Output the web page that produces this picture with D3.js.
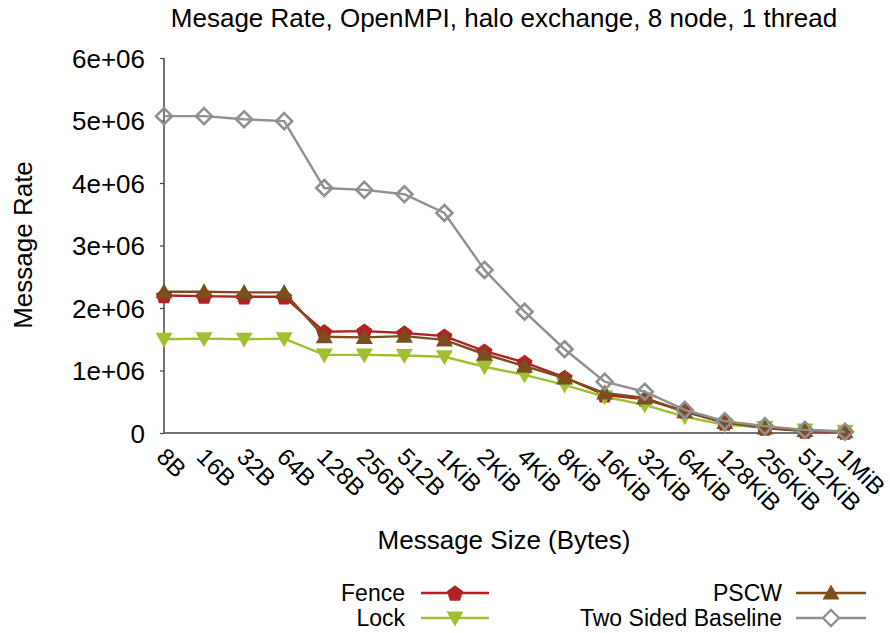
<!DOCTYPE html>
<html>
<head>
<meta charset="utf-8">
<script src="https://cdn.jsdelivr.net/npm/d3@7"></script>
<style>
  body { margin: 0; background: #fff; }
  svg text { font-family: "Liberation Sans", Arial, sans-serif; fill: #000; }
</style>
</head>
<body>
<svg id="chart" width="890" height="633"></svg>
<script>
// message sizes on the x axis
var sizes = ["8B", "16B", "32B", "64B", "128B", "256B", "512B", "1KiB", "2KiB", "4KiB",
  "8KiB", "16KiB", "32KiB", "64KiB", "128KiB", "256KiB", "512KiB", "1MiB"];

// message rate
var fenceRate = [2.20e6, 2.19e6, 2.18e6, 2.18e6, 1.62e6, 1.63e6, 1.60e6, 1.55e6, 1.31e6, 1.13e6,
  0.89e6, 0.61e6, 0.54e6, 0.35e6, 0.16e6, 0.08e6, 0.03e6, 0.015e6];
var lockRate = [1.50e6, 1.51e6, 1.50e6, 1.51e6, 1.25e6, 1.25e6, 1.24e6, 1.22e6, 1.06e6, 0.93e6,
  0.77e6, 0.58e6, 0.45e6, 0.26e6, 0.13e6, 0.09e6, 0.05e6, 0.03e6];
var pscwRate = [2.26e6, 2.26e6, 2.25e6, 2.25e6, 1.54e6, 1.53e6, 1.55e6, 1.49e6, 1.26e6, 1.07e6,
  0.88e6, 0.64e6, 0.56e6, 0.34e6, 0.17e6, 0.08e6, 0.04e6, 0.02e6];
var twoSidedRate = [5.07e6, 5.07e6, 5.02e6, 4.99e6, 3.92e6, 3.89e6, 3.82e6, 3.52e6, 2.61e6, 1.94e6,
  1.34e6, 0.82e6, 0.66e6, 0.37e6, 0.19e6, 0.11e6, 0.05e6, 0.02e6];

var yTicks = [0, 1e6, 2e6, 3e6, 4e6, 5e6, 6e6];
var yTickLabels = ["0", "1e+06", "2e+06", "3e+06", "4e+06", "5e+06", "6e+06"];

var seriesList = [
  { label: "Fence", vals: fenceRate, color: "#b22222", marker: "pentagon" },
  { label: "Lock", vals: lockRate, color: "#a0c030", marker: "down" },
  { label: "PSCW", vals: pscwRate, color: "#7b4e1e", marker: "up" },
  { label: "Two Sided Baseline", vals: twoSidedRate, color: "#909090", marker: "diamond" }
];

var MARGINS = { left: 164, right: 45, top: 58, bottom: 200 };
var WIDTH = 890, HEIGHT = 633;

var vis = d3.select("#chart");

var xRange = d3.scalePoint().domain(sizes).range([MARGINS.left, WIDTH - MARGINS.right]);
var yRange = d3.scaleLinear().domain([0, 6e6]).range([HEIGHT - MARGINS.bottom, MARGINS.top]);

/**
 * marker path centred on 0,0
 */
function markerPath(kind) {
  if (kind === "pentagon") {
    var d = "";
    for (var i = 0; i < 5; i++) {
      var a = -Math.PI / 2 + i * 2 * Math.PI / 5;
      d += (i ? "L" : "M") + (8.5 * Math.cos(a)).toFixed(2) + "," + (8.5 * Math.sin(a) + 0.8).toFixed(2);
    }
    return d + "Z";
  }
  if (kind === "down") return "M-8.5,-6.5L8.5,-6.5L0,8.5Z";
  if (kind === "up") return "M-8.5,6.5L8.5,6.5L0,-8.5Z";
  return "M0,-8L8,0L0,8L-8,0Z";
}

// title
vis.append("text")
  .attr("x", 504).attr("y", 27)
  .attr("text-anchor", "middle")
  .style("font-size", "26px")
  .text("Mesage Rate, OpenMPI, halo exchange, 8 node, 1 thread");

// y axis
var yAxis = d3.axisLeft(yRange).tickValues(yTicks)
  .tickFormat(function (d, i) { return yTickLabels[i]; })
  .tickSize(4).tickPadding(15);
var y2 = vis.append("g")
  .attr("class", "yaxis")
  .attr("transform", "translate(" + MARGINS.left + ",0)")
  .call(yAxis);
y2.select(".domain").attr("stroke", "#444").attr("stroke-width", 1.5)
  .attr("d", "M0," + yRange(0) + "V" + yRange(6e6));
y2.selectAll(".tick line").attr("stroke", "#444").attr("stroke-width", 1.2);
y2.selectAll(".tick text").style("font-size", "26px").attr("dy", "0.36em");

// x axis
var xAxis = d3.axisBottom(xRange).tickSize(0).tickPadding(0);
var x2 = vis.append("g")
  .attr("class", "xaxis")
  .attr("transform", "translate(0," + yRange(0) + ")")
  .call(xAxis);
x2.select(".domain").attr("stroke", "#444").attr("stroke-width", 1.5)
  .attr("d", "M" + MARGINS.left + ",0H" + (xRange("1MiB") + 4));
x2.selectAll(".tick text")
  .style("font-size", "24px")
  .attr("text-anchor", "start")
  .attr("y", 0)
  .attr("transform", "translate(3,13) rotate(45)")
  .attr("dy", "0.72em");

// axis titles
vis.append("text")
  .attr("x", 504).attr("y", 549)
  .attr("text-anchor", "middle")
  .style("font-size", "26px")
  .text("Message Size (Bytes)");

vis.append("text")
  .attr("transform", "translate(32,245) rotate(-90)")
  .attr("text-anchor", "middle")
  .style("font-size", "26px")
  .text("Message Rate");

// lines and markers
var lineFunc = d3.line()
  .x(function (p) { return p[0]; })
  .y(function (p) { return p[1]; });

seriesList.forEach(function (s) {
  var pts = s.vals.map(function (v, i) { return [xRange(sizes[i]), yRange(v)]; });
  var g = vis.append("g").attr("class", "series");
  g.append("path")
    .datum(pts)
    .attr("d", lineFunc)
    .attr("fill", "none")
    .attr("stroke", s.color)
    .attr("stroke-width", 2.4);
  g.selectAll(".mark")
    .data(pts)
    .join("path")
    .attr("class", "mark")
    .attr("transform", function (p) { return "translate(" + p[0] + "," + p[1] + ")"; })
    .attr("d", markerPath(s.marker))
    .attr("fill", s.marker === "diamond" ? "none" : s.color)
    .attr("stroke", s.color)
    .attr("stroke-width", s.marker === "diamond" ? 2.6 : 0);
});

// legend
var legendPos = [
  { x: 421, y: 593, w: 68 }, { x: 421, y: 618, w: 68 },
  { x: 796, y: 593, w: 70 }, { x: 796, y: 618, w: 70 }
];
seriesList.forEach(function (s, i) {
  var p = legendPos[i];
  var g = vis.append("g").attr("transform", "translate(" + p.x + "," + p.y + ")");
  g.append("text")
    .attr("x", i < 2 ? -16 : -14).attr("y", 0).attr("dy", "0.36em")
    .attr("text-anchor", "end")
    .style("font-size", "23px")
    .text(s.label);
  g.append("line")
    .attr("x1", 0).attr("x2", p.w).attr("y1", 0).attr("y2", 0)
    .attr("stroke", s.color).attr("stroke-width", 2.4);
  g.append("path")
    .attr("transform", "translate(" + (p.w / 2) + ",0)")
    .attr("d", markerPath(s.marker))
    .attr("fill", s.marker === "diamond" ? "#fff" : s.color)
    .attr("stroke", s.color)
    .attr("stroke-width", s.marker === "diamond" ? 2.4 : 0);
});
</script>
</body>
</html>
